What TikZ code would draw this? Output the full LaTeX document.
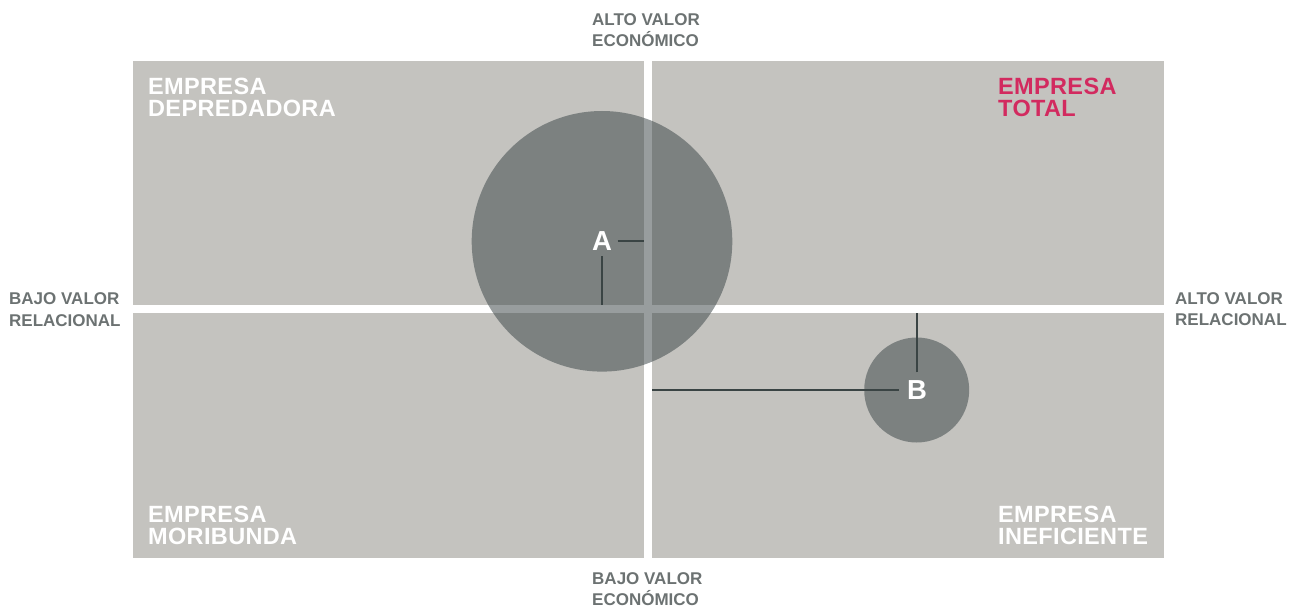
\documentclass[tikz,border=0pt]{standalone}
\usepackage{fontspec}
\setmainfont{Liberation Sans}
\definecolor{quad}{RGB}{196,195,191}
\definecolor{dot}{RGB}{64,74,76}
\definecolor{axisgray}{RGB}{108,114,114}
\definecolor{crim}{RGB}{210,42,95}
\definecolor{connc}{RGB}{58,68,68}
\begin{document}
\begin{tikzpicture}[x=1pt,y=-1pt,
  quadbox/.style={fill=quad, draw=none, inner sep=0pt, anchor=north west},
  bubble/.style={circle, fill=dot, fill opacity=0.54, draw=none, inner sep=0pt},
  ptlabel/.style={text=white, font=\fontsize{27.5}{30}\selectfont\bfseries},
  qlabel/.style={anchor=north west, inner sep=0pt, align=left, text=white, font=\fontsize{23.5}{21.7}\selectfont\bfseries\addfontfeature{LetterSpace=1.5}},
  axlabel/.style={anchor=north west, inner sep=0pt, align=left, text=axisgray, font=\fontsize{17}{21.5}\selectfont\bfseries},
  conn/.style={draw=connc, line width=2pt}]
\useasboundingbox (0,0) rectangle (1301,607);
% quadrants
\node[quadbox, minimum width=511pt, minimum height=244pt] (tl) at (133,61) {};
\node[quadbox, minimum width=512pt, minimum height=244pt] (tr) at (652,61) {};
\node[quadbox, minimum width=511pt, minimum height=245pt] (bl) at (133,313) {};
\node[quadbox, minimum width=512pt, minimum height=245pt] (br) at (652,313) {};
% bubbles
\node[bubble, minimum size=260.6pt] (cA) at (602,241.3) {};
\node[bubble, minimum size=105pt] (cB) at (916.7,390) {};
% point labels
\node[ptlabel, inner sep=5.5pt] (A) at (602,241) {A};
\node[ptlabel, inner sep=8pt] (B) at (917,390) {B};
\coordinate (aR) at (644,241);
\coordinate (aD) at (602,305);
\coordinate (bU) at (917,313);
\coordinate (bL) at (652,390);
\draw[conn] (A.east) -- (aR);
\draw[conn] (A.south) -- (aD);
\draw[conn] (B.north) -- (bU);
\draw[conn] (B.west) -- (bL);
% quadrant labels
\node[qlabel] (qtl) at (148,78) {EMPRESA\\DEPREDADORA};
\node[qlabel, text=crim] (qtr) at (998,78) {EMPRESA\\TOTAL};
\node[qlabel] (qbl) at (148,505.7) {EMPRESA\\MORIBUNDA};
\node[qlabel] (qbr) at (998,505.7) {EMPRESA\\INEFICIENTE};
% axis labels
\node[axlabel] (ytop) at (592,13.3) {ALTO VALOR\\ECONÓMICO};
\node[axlabel] (ybot) at (592,572.3) {BAJO VALOR\\ECONÓMICO};
\node[axlabel] (xleft) at (9,292.5) {BAJO VALOR\\RELACIONAL};
\node[axlabel] (xright) at (1175,292.3) {ALTO VALOR\\RELACIONAL};
\end{tikzpicture}
\end{document}
